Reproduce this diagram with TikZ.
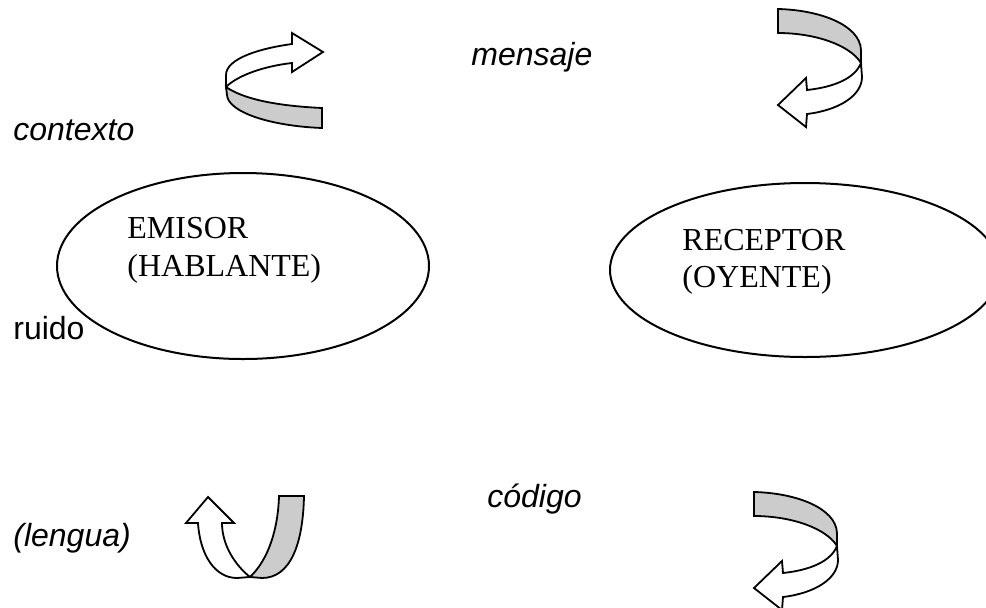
\documentclass[tikz,border=0pt]{standalone}
\usepackage{fontspec}
\setmainfont{Liberation Serif}
\setsansfont{Liberation Sans}
\usetikzlibrary{shapes.geometric}
\definecolor{ribgrey}{RGB}{204,204,204}
\tikzset{
  lbl/.style={anchor=base west,inner sep=0pt,font=\sffamily\itshape\fontsize{16pt}{19pt}\selectfont},
  lblup/.style={anchor=base west,inner sep=0pt,font=\sffamily\fontsize{16pt}{19pt}\selectfont},
  role/.style={anchor=base west,inner sep=0pt,font=\rmfamily\fontsize{16pt}{19pt}\selectfont},
  oval/.style={draw,ellipse,line width=1pt,inner sep=0pt},
  band/.style={draw,line width=0.9pt,line join=miter},
  ribbon down/.pic={
    \filldraw[band,fill=ribgrey] (0,0) .. controls (42,1) and (82,16) .. (83,41) -- (83,54)
      .. controls (72,36) and (37,24) .. (0,24) -- cycle;
    \filldraw[band,fill=white] (83,54) .. controls (77,69) and (57,78) .. (29,81) -- (28,69)
      -- (0,96) -- (28,118) -- (29,105) .. controls (62,101) and (84,86) .. (84,68) -- cycle;
  }
}
\begin{document}
\begin{tikzpicture}[x=0.5pt,y=-0.5pt]
\useasboundingbox (0,0) rectangle (986,607);
\clip (0,0) rectangle (986,607);
\fill[white] (0,0) rectangle (986,607);

% ellipses
\node[oval,minimum width=186pt,minimum height=93pt] (emisor) at (243,266) {};
\node[oval,minimum width=195pt,minimum height=87pt] (receptor) at (805,270) {};

\node[role] (em1) at (127,238) {EMISOR};
\node[role] (em2) at (127,276) {(HABLANTE)};
\node[role] (re1) at (682,250) {RECEPTOR};
\node[role] (re2) at (682,287) {(OYENTE)};

% labels
\node[lbl] (mensaje) at (471,65) {mensaje};
\node[lbl] (contexto) at (13,140) {contexto};
\node[lblup] (ruido) at (13,339) {ruido};
\node[lbl] (lengua) at (13,546) {(lengua)};
\node[lbl] (codigo) at (487,507) {código};

% top-left ribbon arrow
\filldraw[band,fill=white] (292,44) .. controls (262,48) and (226,58) .. (226,75) -- (226,87)
  .. controls (238,75) and (265,66) .. (292,63) -- (292,72) -- (323,52) -- (292,33) -- cycle;
\filldraw[band,fill=ribgrey] (226,87) .. controls (245,100) and (280,106) .. (322,108) -- (322,128)
  .. controls (270,126) and (228,112) .. (227,95) -- cycle;

% top-right and bottom-right ribbon arrows
\pic at (778,9) {ribbon down};
\pic at (754,492) {ribbon down};

% bottom-left U arrow
\filldraw[band,fill=ribgrey] (279,496) -- (304,496) .. controls (303,545) and (290,578) .. (262,578)
  -- (250,577) .. controls (268,560) and (278,530) .. (279,496) -- cycle;
\filldraw[band,fill=white] (198,523) .. controls (200,555) and (215,578) .. (237,578) -- (250,577)
  .. controls (235,565) and (222,545) .. (222,523) -- (234,523) -- (208,497) -- (186,523) -- cycle;
\end{tikzpicture}
\end{document}
